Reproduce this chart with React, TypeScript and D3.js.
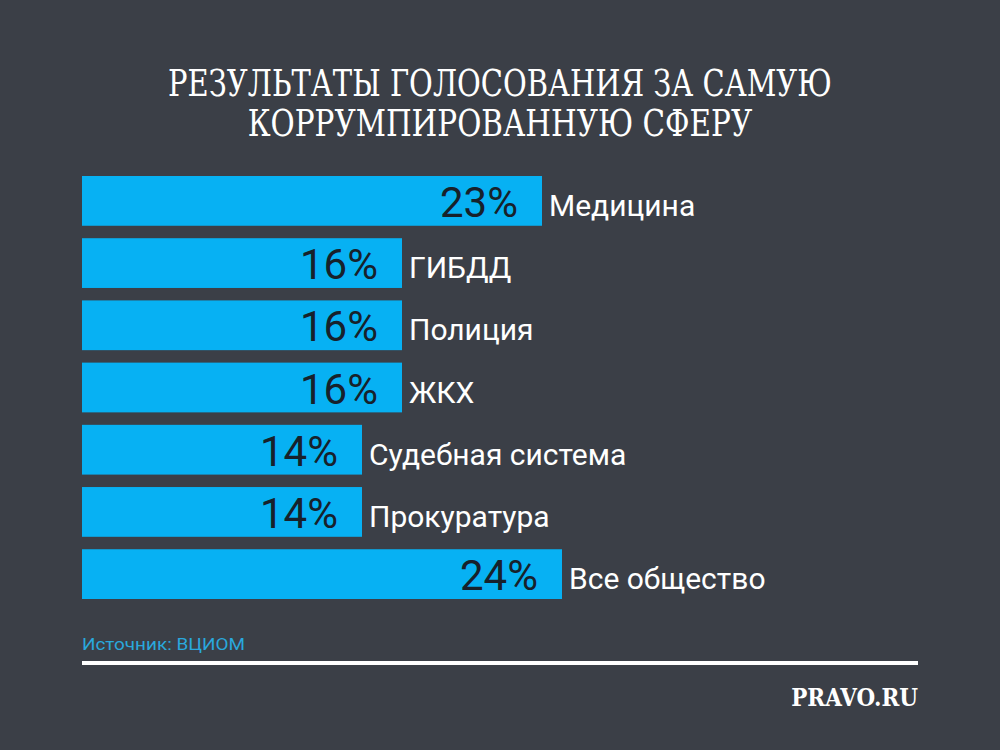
import React, { useEffect, useRef, useState } from "react";
import * as d3 from "d3";

const categories = ["Медицина", "ГИБДД", "Полиция", "ЖКХ", "Судебная система", "Прокуратура", "Все общество"];
const values = [23, 16, 16, 16, 14, 14, 24];
const titleLines = ["РЕЗУЛЬТАТЫ ГОЛОСОВАНИЯ ЗА САМУЮ", "КОРРУМПИРОВАННУЮ СФЕРУ"];
const sourceText = "Источник: ВЦИОМ";
const brandText = "PRAVO.RU";

function FitText({ x, y, width, anchor, children, ...rest }: any) {
  const ref = useRef<SVGTextElement>(null);
  const [s, setS] = useState(1);
  useEffect(() => {
    if (ref.current) {
      const w = ref.current.getBBox().width;
      if (w > 0) setS(width / w);
    }
  }, [width]);
  return (
    <text ref={ref} x={0} y={0} textAnchor={anchor} transform={`translate(${x},${y}) scale(${s},1)`} {...rest}>
      {children}
    </text>
  );
}

export default function App() {
  const W = 1000, H = 750;
  const x = d3.scaleLinear().domain([0, 25]).range([82, 582]);
  const y = d3.scaleBand<string>().domain(categories).range([176, 599]).paddingInner(0.2).paddingOuter(0);
  return (
    <svg width={W} height={H} style={{ position: "absolute", left: 0, top: 0 }}>
      <rect width={W} height={H} fill="#3b3f47" />
      <FitText x={500} y={96} width={664} anchor="middle" fill="#ffffff" fontFamily="'DejaVu Serif', serif" fontSize={37}>{titleLines[0]}</FitText>
      <FitText x={500} y={136} width={505} anchor="middle" fill="#ffffff" fontFamily="'DejaVu Serif', serif" fontSize={37}>{titleLines[1]}</FitText>
      {categories.map((c, i) => {
        const y0 = y(c)!;
        const bw = y.bandwidth();
        const xe = x(values[i]);
        return (
          <g key={c}>
            <rect x={x(0)} y={y0} width={xe - x(0)} height={bw} fill="#07b1f3" />
            <text x={xe - 24} y={y0 + bw / 2 + 16} textAnchor="end" fill="#17212b" fontFamily="Roboto, sans-serif" fontSize={42} fontWeight={400}>{values[i]}%</text>
            <text x={xe + 7} y={y0 + bw / 2 + 15} fill="#ffffff" fontFamily="Roboto, sans-serif" fontSize={30}>{c}</text>
          </g>
        );
      })}
      <FitText x={82} y={650} width={163} anchor="start" fill="#2aa8dc" fontFamily="Roboto, sans-serif" fontSize={17}>{sourceText}</FitText>
      <line x1={82} x2={918} y1={663} y2={663} stroke="#ffffff" strokeWidth={4} />
      <FitText x={918} y={706} width={127} anchor="end" fill="#ffffff" fontFamily="'DejaVu Serif', serif" fontWeight={700} fontSize={25}>{brandText}</FitText>
    </svg>
  );
}
